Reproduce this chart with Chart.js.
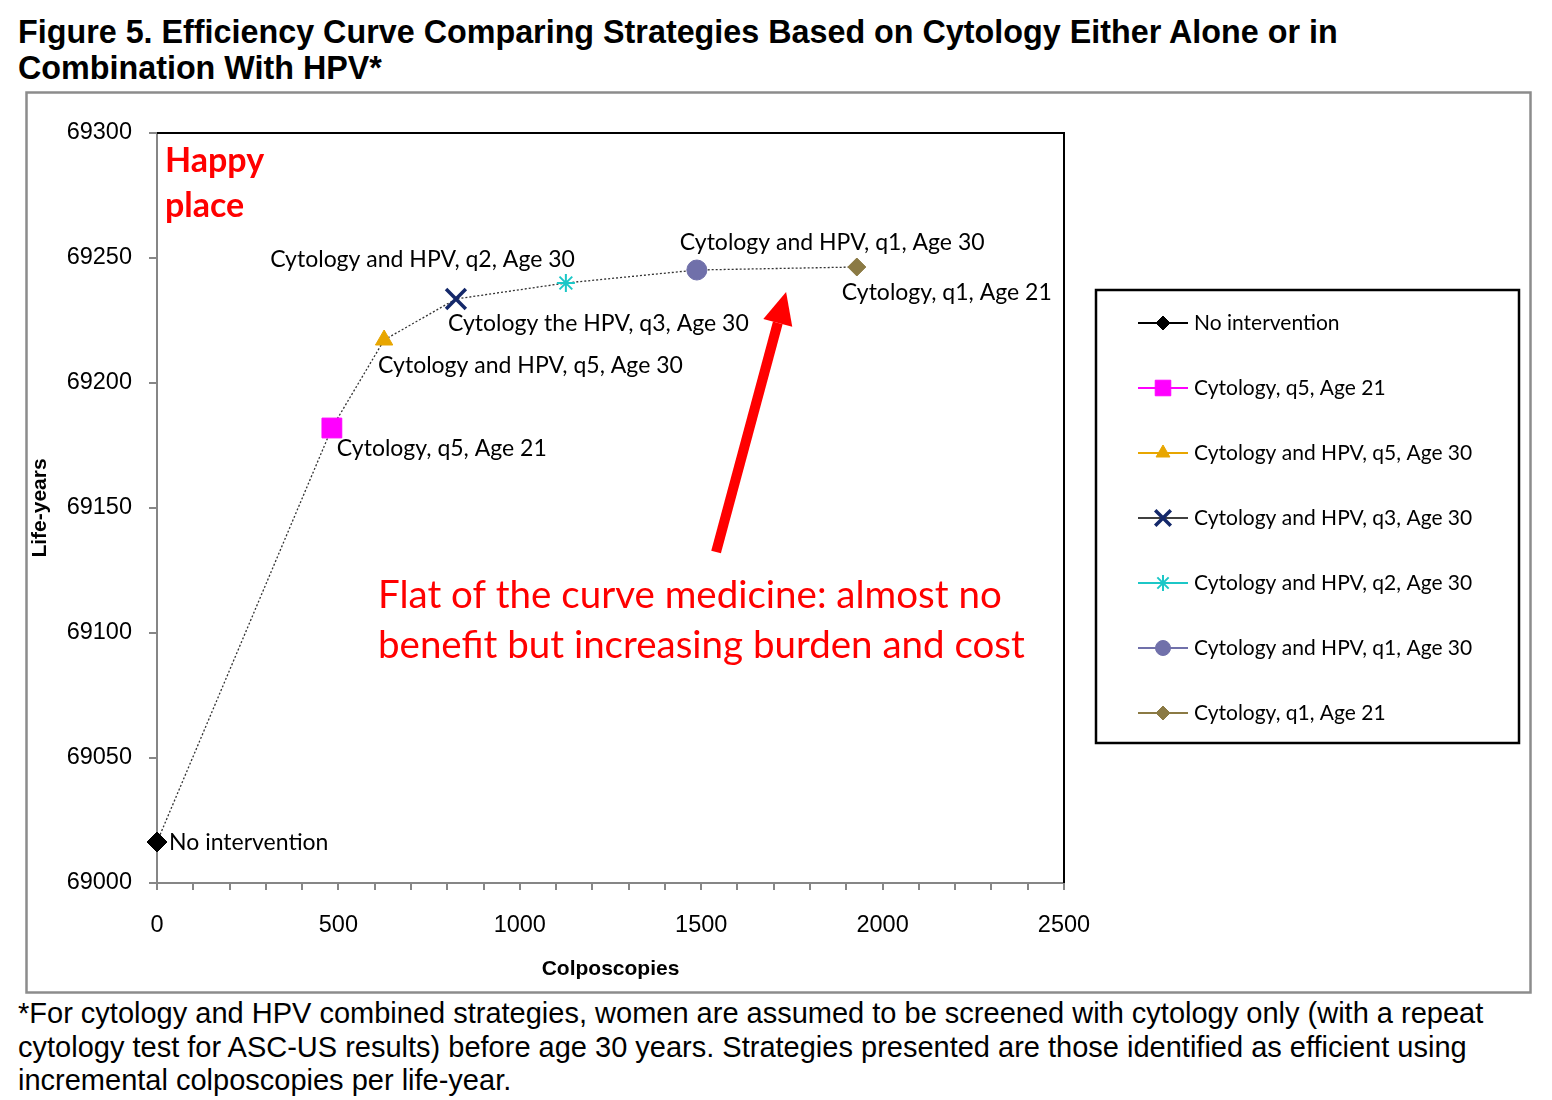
<!DOCTYPE html>
<html>
<head>
<meta charset="utf-8">
<script src="https://cdn.jsdelivr.net/npm/chart.js@4.4.1/dist/chart.umd.min.js"></script>
<style>
  body { margin: 0; background: #fff; width: 1552px; height: 1100px; position: relative; overflow: hidden; }
  #title { position: absolute; left: 18px; top: 14px; font: bold 32.3px "Liberation Sans", Arial, sans-serif; line-height: 36px; color: #000; white-space: nowrap; }
  #note { position: absolute; left: 18px; top: 997px; font: 29px "Liberation Sans", Arial, sans-serif; line-height: 33.5px; color: #000; white-space: nowrap; }
  #wrap { position: absolute; left: 25px; top: 91px; width: 1507px; height: 903px; }
</style>
</head>
<body>
<div id="title">Figure 5. Efficiency Curve Comparing Strategies Based on Cytology Either Alone or in<br>Combination With HPV*</div>
<div id="wrap"><canvas id="chart" width="1507" height="903"></canvas></div>
<div id="note">*For cytology and HPV combined strategies, women are assumed to be screened with cytology only (with a repeat<br>cytology test for ASC-US results) before age 30 years. Strategies presented are those identified as efficient using<br>incremental colposcopies per life-year.</div>
<script>
// --- data ---
const strategies = [
  "No intervention",
  "Cytology, q5, Age 21",
  "Cytology and HPV, q5, Age 30",
  "Cytology and HPV, q3, Age 30",
  "Cytology and HPV, q2, Age 30",
  "Cytology and HPV, q1, Age 30",
  "Cytology, q1, Age 21"
];
const pointLabels = [
  "No intervention",
  "Cytology, q5, Age 21",
  "Cytology and HPV, q5, Age 30",
  "Cytology the HPV, q3, Age 30",
  "Cytology and HPV, q2, Age 30",
  "Cytology and HPV, q1, Age 30",
  "Cytology, q1, Age 21"
];
const colposcopies = [0, 482, 626, 824, 1127, 1488, 1929];
const lifeYears = [69016.4, 69182, 69217.2, 69233.6, 69240, 69245.2, 69246.4];
const xTicks = [0, 500, 1000, 1500, 2000, 2500];
const yTicks = [69000, 69050, 69100, 69150, 69200, 69250, 69300];

// --- styles ---
const markerStyles = [
  { style: "rectRot", color: "#000000", line: "#000000", r: 10, lr: 7, bw: 1, lbw: 1 },
  { style: "rect", color: "#FF00FF", line: "#FF00FF", r: 14, lr: 11, bw: 1, lbw: 1 },
  { style: "triangle", color: "#E8A600", line: "#E8A600", r: 10, lr: 8, bw: 1, lbw: 1 },
  { style: "crossRot", color: "#14286A", line: "#404040", r: 14, lr: 11, bw: 3.5, lbw: 3.5 },
  { style: "star", color: "#1CC7C7", line: "#1CC7C7", r: 9, lr: 8, bw: 2, lbw: 2 },
  { style: "circle", color: "#7070AA", line: "#7070AA", r: 10, lr: 7.5, bw: 1, lbw: 1 },
  { style: "rectRot", color: "#8B7A44", line: "#8B7A44", r: 9, lr: 7, bw: 1, lbw: 1 }
];
// label offsets from the point, in px
const labelOffsets = [
  { dx: 12, dy: 1, align: "left" },
  { dx: 5, dy: 21, align: "left" },
  { dx: -6, dy: 26, align: "left" },
  { dx: -8, dy: 25, align: "left" },
  { dx: 9, dy: -23, align: "right" },
  { dx: -17, dy: -27, align: "left" },
  { dx: -15, dy: 26, align: "left" }
];
const labelFont = '23px Lato, "Open Sans", sans-serif';
const tickFont = { family: '"Liberation Sans", Arial, sans-serif', size: 23.5 };
const titleFont = { family: '"Liberation Sans", Arial, sans-serif', size: 21, weight: "bold" };

const pointSets = strategies.map((name, i) => {
  const m = markerStyles[i];
  return {
    label: name,
    data: [{ x: colposcopies[i], y: lifeYears[i] }],
    showLine: false,
    clip: false,
    pointStyle: m.style,
    pointRadius: m.r,
    pointHoverRadius: m.r,
    pointBackgroundColor: m.color,
    pointBorderColor: m.color,
    pointBorderWidth: m.bw,
    order: 0
  };
});

const curveSet = {
  label: "curve",
  data: colposcopies.map((x, i) => ({ x: x, y: lifeYears[i] })),
  showLine: true,
  clip: false,
  borderColor: "#333",
  borderWidth: 1.3,
  borderDash: [2, 2],
  pointRadius: 0,
  order: 1
};

const framePlugin = {
  id: "frame",
  beforeDraw(chart) {
    const ctx = chart.ctx;
    ctx.save();
    ctx.fillStyle = "#fff";
    ctx.fillRect(0, 0, chart.width, chart.height);
    ctx.restore();
  },
  afterDraw(chart) {
    const { ctx, chartArea: a } = chart;
    ctx.save();
    // outer frame
    ctx.strokeStyle = "#8c8c8c";
    ctx.lineWidth = 2.5;
    ctx.strokeRect(1.5, 1.5, chart.width - 3, chart.height - 3);
    // top and right plot border
    ctx.strokeStyle = "#000";
    ctx.lineWidth = 2;
    ctx.beginPath();
    ctx.moveTo(a.left, a.top);
    ctx.lineTo(a.right, a.top);
    ctx.lineTo(a.right, a.bottom);
    ctx.stroke();
    ctx.restore();
  }
};

const labelsPlugin = {
  id: "pointLabels",
  afterDatasetsDraw(chart) {
    const ctx = chart.ctx;
    const xs = chart.scales.x, ys = chart.scales.y;
    ctx.save();
    ctx.font = labelFont;
    ctx.fillStyle = "#000";
    ctx.textBaseline = "middle";
    pointLabels.forEach((t, i) => {
      const o = labelOffsets[i];
      ctx.textAlign = o.align;
      ctx.fillText(t, xs.getPixelForValue(colposcopies[i]) + o.dx, ys.getPixelForValue(lifeYears[i]) + o.dy);
    });

    // annotations
    const a = chart.chartArea;
    ctx.fillStyle = "#FF0000";
    ctx.textAlign = "left";
    ctx.font = 'bold 34px Lato, "Open Sans", sans-serif';
    ctx.fillText("Happy", a.left + 8, a.top + 28);
    ctx.fillText("place", a.left + 8, a.top + 73);
    ctx.font = '38.5px Lato, "Open Sans", sans-serif';
    ctx.fillText("Flat of the curve medicine: almost no", a.left + 221, a.top + 463);
    ctx.fillText("benefit but increasing burden and cost", a.left + 221, a.top + 513);

    // arrow
    const x0 = xs.getPixelForValue(1541), y0 = ys.getPixelForValue(69132.4);
    const x1 = xs.getPixelForValue(1734), y1 = ys.getPixelForValue(69236.4);
    const ang = Math.atan2(y1 - y0, x1 - x0);
    const headLen = 32, headW = 15;
    const bx = x1 - headLen * Math.cos(ang), by = y1 - headLen * Math.sin(ang);
    ctx.strokeStyle = "#FF0000";
    ctx.lineWidth = 10;
    ctx.beginPath();
    ctx.moveTo(x0, y0);
    ctx.lineTo(bx, by);
    ctx.stroke();
    ctx.beginPath();
    ctx.moveTo(x1, y1);
    ctx.lineTo(bx + headW * Math.sin(ang), by - headW * Math.cos(ang));
    ctx.lineTo(bx - headW * Math.sin(ang), by + headW * Math.cos(ang));
    ctx.closePath();
    ctx.fill();
    ctx.restore();
  }
};

const legendPlugin = {
  id: "boxLegend",
  afterDraw(chart) {
    const ctx = chart.ctx;
    const a = chart.chartArea;
    const left = a.right + 32, top = a.top + 157, w = 423, h = 453;
    ctx.save();
    ctx.strokeStyle = "#000";
    ctx.lineWidth = 2.5;
    ctx.strokeRect(left, top, w, h);
    ctx.font = '21px Lato, "Open Sans", sans-serif';
    ctx.textBaseline = "middle";
    ctx.textAlign = "left";
    strategies.forEach((name, i) => {
      const m = markerStyles[i];
      const y = top + 33 + i * 65;
      ctx.strokeStyle = m.line;
      ctx.lineWidth = 2;
      ctx.beginPath();
      ctx.moveTo(left + 42, y);
      ctx.lineTo(left + 92, y);
      ctx.stroke();
      ctx.fillStyle = m.color;
      ctx.strokeStyle = m.color;
      ctx.lineWidth = m.lbw;
      Chart.helpers.drawPoint(ctx, { pointStyle: m.style, radius: m.lr, rotation: 0, borderWidth: m.lbw }, left + 67, y);
      ctx.fillStyle = "#000";
      ctx.fillText(name, left + 98, y);
    });
    ctx.restore();
  }
};

new Chart(document.getElementById("chart"), {
  type: "scatter",
  data: { datasets: [...pointSets, curveSet] },
  options: {
    responsive: false,
    animation: false,
    layout: { padding: { left: 0, top: 42, right: 468, bottom: 0 } },
    plugins: { legend: { display: false }, tooltip: { enabled: false } },
    scales: {
      x: {
        type: "linear",
        min: xTicks[0],
        max: xTicks[xTicks.length - 1],
        ticks: {
          stepSize: 100,
          autoSkip: false,
          maxRotation: 0,
          padding: 21,
          color: "#000",
          font: tickFont,
          callback: v => (xTicks.includes(v) ? String(v) : "")
        },
        grid: { drawOnChartArea: false, tickLength: 7, color: "#868686", lineWidth: 2 },
        border: { color: "#868686", width: 2 },
        title: { display: true, text: "Colposcopies", color: "#000", font: titleFont, padding: { top: 0, bottom: 12 } },
        afterFit: s => { s.height = 111; }
      },
      y: {
        min: yTicks[0],
        max: yTicks[yTicks.length - 1],
        ticks: { stepSize: 50, padding: 17, color: "#000", font: tickFont, callback: v => String(v) },
        afterBuildTicks: s => { s.ticks = yTicks.map(v => ({ value: v })); },
        grid: { drawOnChartArea: false, tickLength: 8, color: "#868686", lineWidth: 2 },
        border: { color: "#868686", width: 2 },
        title: { display: true, text: "Life-years", color: "#000", font: titleFont, padding: { top: 3, bottom: 4 } },
        afterFit: s => { s.width = 132; }
      }
    }
  },
  plugins: [framePlugin, labelsPlugin, legendPlugin]
});
</script>
</body>
</html>
